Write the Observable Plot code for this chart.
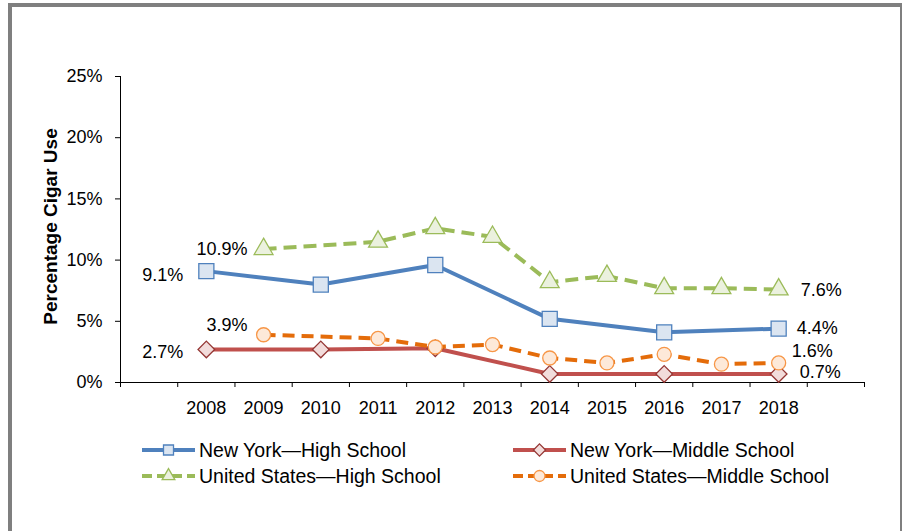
<!DOCTYPE html>
<html><head><meta charset="utf-8">
<script src="https://cdn.jsdelivr.net/npm/d3@7"></script>
<script src="https://cdn.jsdelivr.net/npm/@observablehq/plot@0.6"></script>
<style>
html,body{margin:0;padding:0;background:#fff;}
#wrap{position:relative;width:902px;height:531px;overflow:hidden;font-family:"Liberation Sans",Arial,sans-serif;}
.b{position:absolute;background:#7f7f7f;}
#chart{position:absolute;left:0;top:0;}
.leg{position:absolute;display:flex;align-items:center;font-size:19.5px;color:#000;white-space:nowrap;height:24px;}
.leg svg{margin-right:3px;display:block;}
</style></head><body>
<div id="wrap">
 <div class="b" style="left:8px;top:3px;width:4px;height:528px"></div>
 <div class="b" style="left:8px;top:3px;width:894px;height:4px"></div>
 <div class="b" style="left:900px;top:3px;width:2px;height:528px"></div>
 <div id="chart"></div>
 <div id="legend"></div>
</div>
<script>
// ---- data ----
const years = [2008, 2009, 2010, 2011, 2012, 2013, 2014, 2015, 2016, 2017, 2018];
const nyYears = [2008, 2010, 2012, 2014, 2016, 2018];
const usYears = [2009, 2011, 2012, 2013, 2014, 2015, 2016, 2017, 2018];
const nyHighSchool = [9.1, 8.0, 9.6, 5.2, 4.1, 4.4];
const nyMiddleSchool = [2.7, 2.7, 2.8, 0.7, 0.7, 0.7];
const usHighSchool = [10.9, 11.5, 12.6, 11.9, 8.2, 8.7, 7.7, 7.7, 7.6];
const usMiddleSchool = [3.9, 3.6, 2.9, 3.1, 2.0, 1.6, 2.3, 1.5, 1.6];
const seriesNames = ["New York—High School", "New York—Middle School", "United States—High School", "United States—Middle School"];
const yTicks = [0, 5, 10, 15, 20, 25];
const yTitle = "Percentage Cigar Use";

// ---- styles ----
const styles = [
  {line: "#4f81bd", dash: null, symbol: "square", r: 8.5, fill: "#dbe5f1", mstroke: "#4f81bd",
   first: {dx: -23, dy: 4}, last: {dx: 18, dy: 0}},
  {line: "#c0504d", dash: null, symbol: "diamond2", r: 7.5, fill: "#f2dcdb", mstroke: "#953735",
   first: {dx: -23, dy: 3}, last: {dx: 21, dy: -2}},
  {line: "#9bbb59", dash: "13,7", symbol: "triangle", r: 7, fill: "#ebf1de", mstroke: "#9bbb59",
   first: {dx: -16, dy: 0}, last: {dx: 22, dy: 1}},
  {line: "#e46c0a", dash: "12,7", symbol: "circle", r: 7, fill: "#fde9d9", mstroke: "#f79646",
   first: {dx: -16, dy: -10}, last: {dx: 13, dy: -12}}
];

const seriesData = [
  d3.zip(nyYears, nyHighSchool),
  d3.zip(nyYears, nyMiddleSchool),
  d3.zip(usYears, usHighSchool),
  d3.zip(usYears, usMiddleSchool)
].map(arr => arr.map(([year, value]) => ({year, value})));

const xMin = years[0] - 1.5, xMax = years[years.length - 1] + 1.5;
const boundaries = d3.range(xMin, xMax + 0.01, 1);
const fmt = v => v.toFixed(1) + "%";

const marks = [
  Plot.axisY({ticks: yTicks, tickSize: 5, tickPadding: 13, tickFormat: d => d + "%", label: null}),
  Plot.axisX({ticks: boundaries, tickSize: 5, tickFormat: () => "", label: null}),
  Plot.axisX({ticks: years, tickSize: 0, tickPadding: 19, tickFormat: d => String(d), label: null}),
  Plot.ruleX([xMin], {y1: 0, y2: 25, stroke: "#000"}),
  Plot.ruleY([0], {stroke: "#000"}),
  Plot.text([yTitle], {frameAnchor: "left", textAnchor: "middle", lineAnchor: "middle", text: d => d, rotate: -90, dx: -70, dy: -3, fontWeight: "bold", fontSize: 19, fill: "#000"})
];

seriesData.forEach((data, i) => {
  const s = styles[i];
  marks.push(Plot.line(data, {x: "year", y: "value", stroke: s.line, strokeWidth: 4, strokeDasharray: s.dash, strokeLinecap: "butt", strokeLinejoin: "round"}));
  marks.push(Plot.dot(data, {x: "year", y: "value", symbol: s.symbol, r: s.r, fill: s.fill, stroke: s.mstroke, strokeWidth: 1.3}));
});
seriesData.forEach((data, i) => {
  const s = styles[i];
  marks.push(Plot.text([data[0]], {x: "year", y: "value", text: d => fmt(d.value), textAnchor: "end", dx: s.first.dx, dy: s.first.dy, fill: "#000"}));
  marks.push(Plot.text([data[data.length - 1]], {x: "year", y: "value", text: d => fmt(d.value), textAnchor: "start", dx: s.last.dx, dy: s.last.dy, fill: "#000"}));
});

const chart = Plot.plot({
  width: 902, height: 430,
  marginLeft: 120, marginRight: 38, marginTop: 76, marginBottom: 48,
  style: {fontFamily: "Liberation Sans, Arial, sans-serif", fontSize: "18px", color: "#000", background: "transparent", overflow: "visible"},
  x: {domain: [xMin, xMax]},
  y: {domain: [0, 25]},
  marks
});
document.getElementById("chart").appendChild(chart);

// ---- legend ----
const legendPos = [
  {left: 141, top: 438}, {left: 512, top: 438},
  {left: 141, top: 464}, {left: 512, top: 464}
];
const legend = document.getElementById("legend");
seriesNames.forEach((name, i) => {
  const s = styles[i];
  const item = document.createElement("div");
  item.className = "leg";
  item.style.left = legendPos[i].left + "px";
  item.style.top = legendPos[i].top + "px";
  const svg = d3.create("svg").attr("width", 55).attr("height", 22);
  svg.append("line").attr("x1", 1).attr("x2", 54).attr("y1", 11).attr("y2", 11)
    .attr("stroke", s.line).attr("stroke-width", 4)
    .attr("stroke-dasharray", s.dash ? "10,5" : null);
  const sym = {square: d3.symbolSquare, diamond2: d3.symbolDiamond2, triangle: d3.symbolTriangle, circle: d3.symbolCircle}[s.symbol];
  const size = {square: 100, diamond2: 95, triangle: 70, circle: 95}[s.symbol];
  svg.append("path").attr("transform", "translate(27.5,11)").attr("d", d3.symbol(sym, size)())
    .attr("fill", s.fill).attr("stroke", s.mstroke).attr("stroke-width", 1.3);
  item.appendChild(svg.node());
  const span = document.createElement("span");
  span.textContent = name;
  item.appendChild(span);
  legend.appendChild(item);
});
</script>
</body></html>
